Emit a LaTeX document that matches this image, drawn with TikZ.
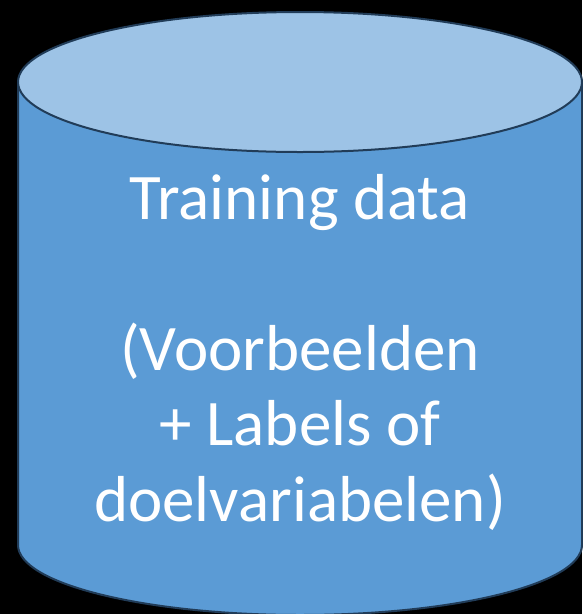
\documentclass[tikz,border=0pt]{standalone}
\usepackage{fontspec}
\setmainfont{Carlito}
\definecolor{bodyblue}{RGB}{91,155,213}
\definecolor{lidblue}{RGB}{157,195,230}
\definecolor{rimline}{RGB}{33,60,88}
\tikzset{
  rim/.style={draw=rimline, line width=2pt},
  label/.style={text=white, anchor=base, inner sep=0pt, font=\fontsize{65}{75}\selectfont}
}
\begin{document}
\begin{tikzpicture}[x=1pt, y=-1pt]
  \fill[black] (0,0) rectangle (582,614);
  \useasboundingbox (0,0) rectangle (582,614);
  % cylinder body
  \path[rim, fill=bodyblue] (18,82) -- (18,545)
    arc[start angle=180, end angle=360, x radius=282, y radius=-70]
    -- (582,82) -- cycle;
  % lid
  \path[rim, fill=lidblue] (300,82) ellipse[x radius=282, y radius=70];
  % caption
  \node[label] (l1) at (300,219) {Training data};
  \node[label] (l2) at (300,370) {(Voorbeelden};
  \node[label] (l3) at (300,445.5) {+ Labels of};
  \node[label] (l4) at (300,521) {doelvariabelen)};
\end{tikzpicture}
\end{document}
